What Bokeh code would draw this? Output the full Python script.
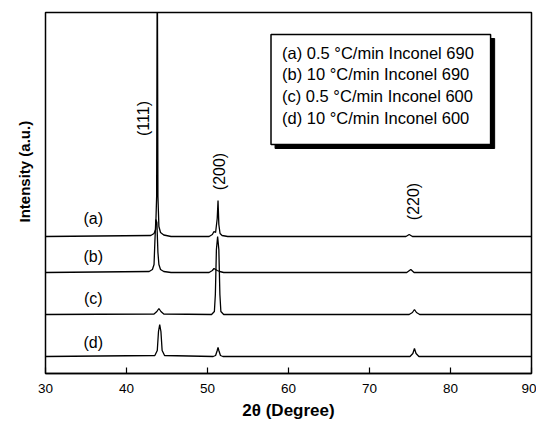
from math import pi
from bokeh.plotting import figure
from bokeh.models import Range1d, Title
from bokeh.core.properties import value
from bokeh.embed import file_html
from bokeh.resources import INLINE

# ---- data (y in arbitrary units) ----
labels = ["(a)", "(b)", "(c)", "(d)"]
baselines = [137, 101, 59, 17]

x_a = [30, 43.0, 43.4, 43.6, 43.72, 43.8, 43.88, 44.0, 44.2, 44.6, 45.5,
       50.2, 50.6, 50.8, 51.0, 51.2, 51.3, 51.4, 51.55, 51.8, 52.5,
       74.5, 74.9, 75.3, 90]
y_a = [0, 1, 3, 7, 40, 300, 40, 10, 4, 1.5, 0,
       0, 2, 5, 4, 18, 36, 12, 3, 1, 0,
       0, 2, 0, 0]

x_b = [30, 42.8, 43.2, 43.4, 43.5, 43.62, 43.75, 43.88, 44.0, 44.2, 44.6, 45.5,
       50.2, 50.6, 50.8, 51.0, 51.2, 51.5, 52.0,
       74.6, 75.1, 75.5, 90]
y_b = [0, 1, 3, 8, 30, 53, 50, 20, 8, 3, 1, 0,
       0, 2, 4, 3, 2, 1, 0,
       0, 3, 0, 0]

x_c = [30, 43.4, 43.75, 44.0, 44.25, 44.6,
       50.5, 50.85, 50.97, 51.1, 51.25, 51.4, 51.53, 51.65, 52.0,
       74.9, 75.3, 75.55, 75.8, 76.2, 90]
y_c = [0, 0.5, 3, 6, 3, 0.5,
       0, 3, 20, 65, 78, 65, 20, 3, 0,
       0, 2, 5, 2, 0, 0]

x_d = [30, 43.5, 43.8, 43.95, 44.1, 44.25, 44.4, 44.7,
       50.7, 51.0, 51.2, 51.3, 51.4, 51.6, 51.9,
       75.0, 75.35, 75.55, 75.75, 76.1, 90]
y_d = [0, 1, 6, 25, 32, 25, 6, 1,
       0, 1, 6, 9, 6, 1, 0,
       0, 3, 8, 3, 0, 0]

curves_x = [x_a, x_b, x_c, x_d]
curves_y = [y_a, y_b, y_c, y_d]

label_x = [35.9, 35.9, 35.9, 35.9]
label_y = [155, 117, 75, 31]

peak_names = ["(111)", "(200)", "(220)"]
peak_label_x = [42.1, 51.44, 75.46]
peak_label_y = [255, 202, 172]

legend_entries = ["(a) 0.5 \u00b0C/min Inconel 690",
                  "(b) 10 \u00b0C/min Inconel 690",
                  "(c) 0.5 \u00b0C/min Inconel 600",
                  "(d) 10 \u00b0C/min Inconel 600"]
legend_y = [321, 300, 278, 256]

x_ticks = [30, 40, 50, 60, 70, 80, 90]

FONT = "Liberation Sans"

p = figure(width=536, height=426, output_backend="svg", toolbar_location=None,
           x_range=Range1d(30, 90), y_range=Range1d(0, 361),
           min_border_left=44, min_border_right=5, min_border_top=12,
           min_border_bottom=53)
p.background_fill_color = "white"
p.border_fill_color = "white"
p.xgrid.visible = False
p.ygrid.visible = False
p.outline_line_color = "black"
p.outline_line_width = 1.5

# x axis
p.xaxis.ticker = x_ticks
p.xaxis.ticker.num_minor_ticks = 2
p.xaxis.axis_line_color = "black"
p.xaxis.axis_line_width = 1.5
p.xaxis.major_tick_in = 6
p.xaxis.major_tick_out = 0
p.xaxis.minor_tick_in = 3
p.xaxis.minor_tick_out = 0
p.xaxis.major_tick_line_color = "black"
p.xaxis.minor_tick_line_color = "black"
p.xaxis.major_tick_line_width = 1.2
p.xaxis.minor_tick_line_width = 1.2
p.xaxis.major_label_text_font = FONT
p.xaxis.major_label_text_font_size = "13.5px"
p.xaxis.major_label_text_color = "black"
p.xaxis.major_label_standoff = 10
p.xaxis.axis_label = "2\u03b8 (Degree)"
p.xaxis.axis_label_text_font = FONT
p.xaxis.axis_label_text_font_style = "bold"
p.xaxis.axis_label_text_font_size = "17px"
p.xaxis.axis_label_text_color = "black"
p.xaxis.axis_label_standoff = 5

p.yaxis.visible = False

# y label as a left-side title
p.add_layout(Title(text="Intensity (a.u.)", align="left", offset=151,
                   text_font=FONT, text_font_style="bold",
                   text_font_size="15px", text_color="black", standoff=26),
             "left")

# curves
for xs, ys, base in zip(curves_x, curves_y, baselines):
    p.line(xs, [base + yi for yi in ys], line_color="black", line_width=1.3)

# curve labels
p.text(x=label_x, y=label_y, text=labels,
       text_font=value(FONT), text_font_size="16px", text_color="black",
       text_align="center", text_baseline="middle")

# peak labels (rotated)
p.text(x=peak_label_x, y=peak_label_y, text=peak_names, angle=pi / 2,
       text_font=value(FONT), text_font_size="16px", text_color="black",
       text_align="center", text_baseline="middle")

# legend box with shadow
L, R, T, B = 57.84, 84.95, 339, 229
dx, dy = 0.5, 4
p.quad(left=[L + dx], right=[R + dx], top=[T - dy], bottom=[B - dy],
       fill_color="black", line_color="black")
p.quad(left=[L], right=[R], top=[T], bottom=[B],
       fill_color="white", line_color="black", line_width=1.5)
p.text(x=[59.2] * 4, y=legend_y, text=legend_entries,
       text_font=value(FONT), text_font_size="16.5px", text_color="black",
       text_align="left", text_baseline="middle")

open("out.html", "w").write(file_html(p, INLINE))
